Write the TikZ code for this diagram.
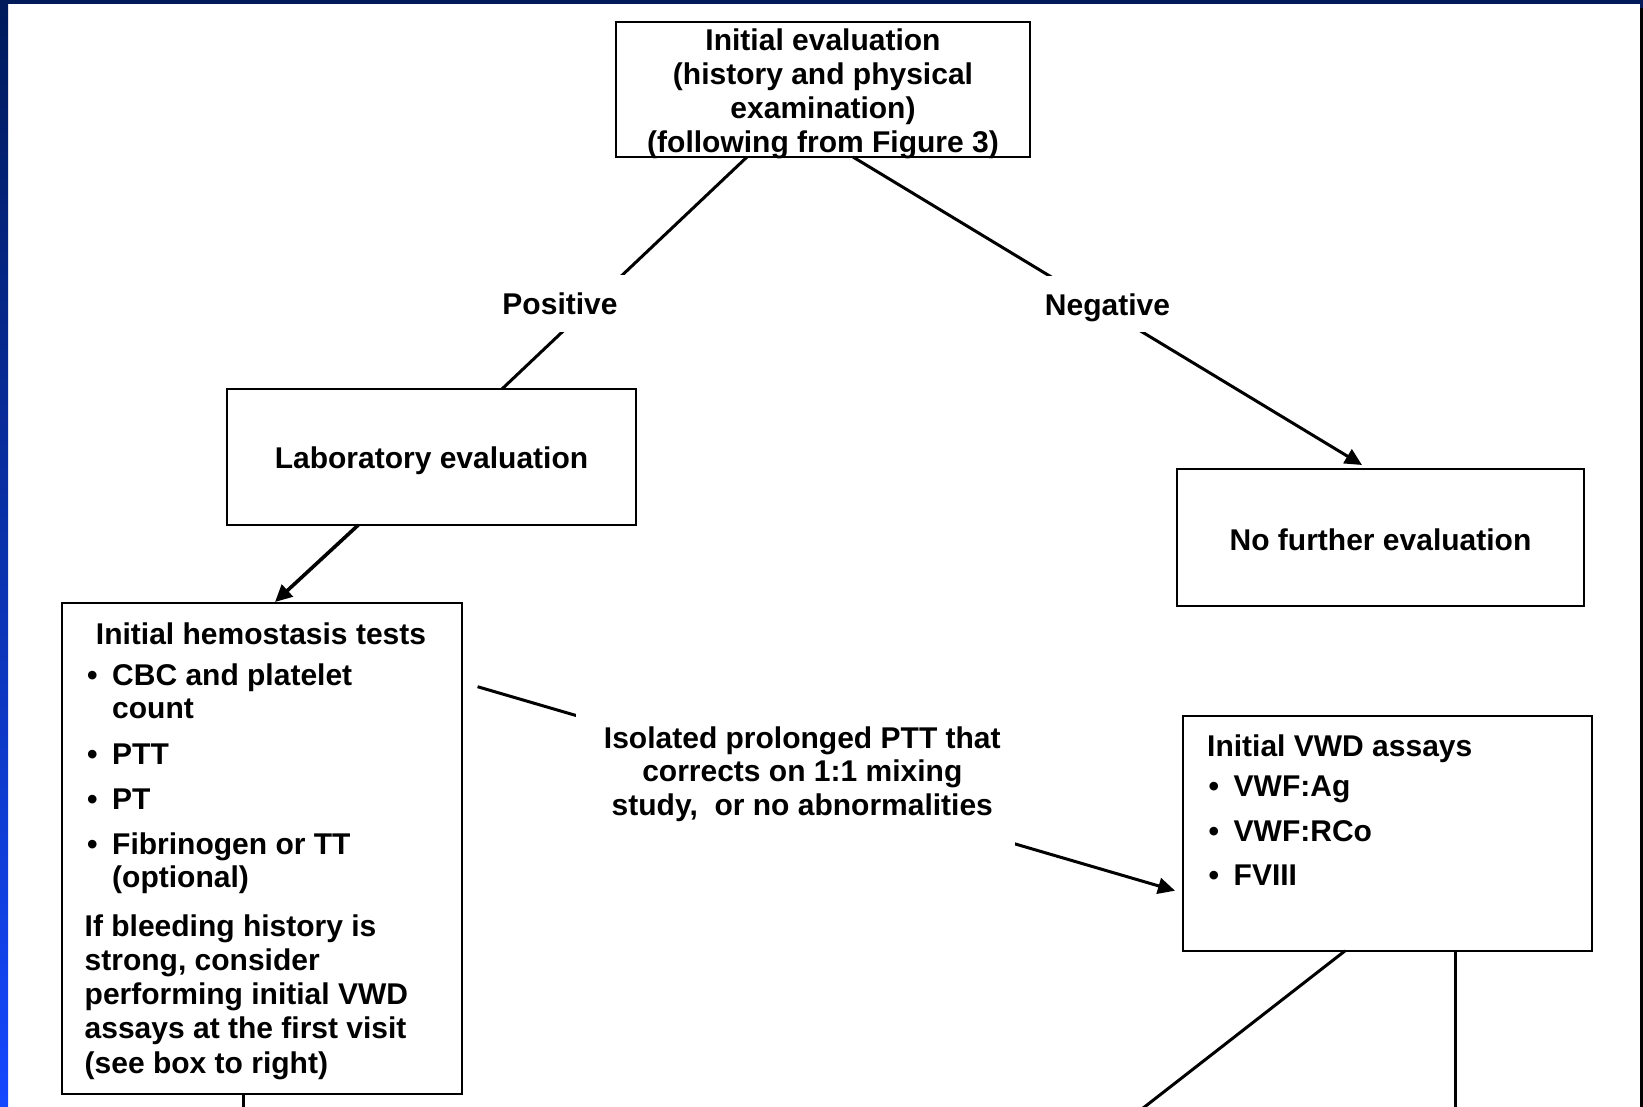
\documentclass[tikz,border=0pt]{standalone}
\usepackage{fontspec}
\setmainfont{Liberation Sans}
\usetikzlibrary{arrows.meta}
\definecolor{navy}{RGB}{0,26,90}
\definecolor{midblue}{RGB}{12,46,150}
\definecolor{brightblue}{RGB}{20,72,255}
\tikzset{
  boxst/.style={draw=black, line width=2pt, inner sep=0pt, rectangle},
  txt/.style={inner sep=0pt, font=\fontsize{30}{33}\selectfont\bfseries},
  lblst/.style={txt, fill=white, text height=22.5pt, text depth=0pt},
  conn/.style={line width=3pt},
  arr/.style={line width=3pt, -{Triangle[length=17pt,width=16pt]}},
  gapst/.style={fill=white, inner sep=0pt}
}
\newcommand{\bul}{\makebox[25pt][l]{\textbullet}}
\begin{document}
\begin{tikzpicture}[x=1pt,y=-1pt]
% background and frame strips
\useasboundingbox (0,0) rectangle (1643,1107);
\fill[white] (0,0) rectangle (1643,1107);
\fill[navy] (0,0) rectangle (1643,4);
\shade[top color=navy, middle color=midblue, bottom color=brightblue] (0,0) rectangle (8,1107);
\fill[navy] (1640,0) rectangle (1643,8);
\fill[black] (1640,8) rectangle (1643,1107);

% boxes
\node[boxst, minimum width=414pt, minimum height=135pt] (top) at (823,89.5) {};
\node[boxst, txt, text height=23pt, text depth=0pt, minimum width=409pt, minimum height=136pt] (lab) at (431.5,457) {Laboratory evaluation};
\node[boxst, txt, text height=25pt, text depth=0pt, minimum width=407pt, minimum height=137pt] (nofurther) at (1380.5,537.5) {No further evaluation};
\node[boxst, minimum width=400pt, minimum height=490.5pt] (hemo) at (261.5,848.25) {};
\node[boxst, minimum width=408.7pt, minimum height=234.7pt] (vwd) at (1387.35,833.35) {};

% top box text
\node[txt, anchor=base] (t1) at (823,50.5) {Initial evaluation};
\node[txt, anchor=base] (t2) at (823,84.7) {(history and physical};
\node[txt, anchor=base] (t3) at (823,118.8) {examination)};
\node[txt, anchor=base] (t4) at (823,153) {(following from Figure 3)};

% connector coordinates
\coordinate (pA) at (747,157);
\coordinate (pB) at (502,389);
\coordinate (nA) at (853,157);
\coordinate (nB) at (1362,465);
\coordinate (lA) at (358.3,525);
\coordinate (lB) at (275,602);
\coordinate (mA) at (477.6,686.7);
\coordinate (mB) at (1175,890.7);
\coordinate (hA) at (243.5,1093.5);
\coordinate (hB) at (243.5,1112);
\coordinate (vA) at (1345.2,950.7);
\coordinate (vB) at (1138,1112);
\coordinate (wA) at (1455.6,950.7);
\coordinate (wB) at (1455.6,1112);

% connectors
\draw[conn] (pA) -- (pB);
\draw[arr] (nA) -- (nB);
\draw[arr, line width=3.6pt] (lA) -- (lB);
\draw[arr] (mA) -- (mB);
\draw[conn] (hA) -- (hB);
\draw[conn] (vA) -- (vB);
\draw[conn] (wA) -- (wB);

% connector labels
\node[lblst, minimum width=130pt, minimum height=57pt] (pos) at (560,303.5) {Positive};
\node[lblst, minimum width=135pt, minimum height=56pt] (neg) at (1107.5,304) {Negative};
\node[gapst, minimum width=439.5pt, minimum height=134pt] (midgap) at (795.25,779) {};
\node[txt, anchor=base] (m1) at (802.3,748) {Isolated prolonged PTT that};
\node[txt, anchor=base] (m2) at (802.3,781.5) {corrects on 1:1 mixing};
\node[txt, anchor=base] (m3) at (802.3,815) {study,~~or no abnormalities};

% hemostasis box text
\node[txt, anchor=base] (h0) at (261,644.5) {Initial hemostasis tests};
\node[txt, anchor=base west] (h1) at (87,685) {\bul CBC and platelet};
\node[txt, anchor=base west] (h2) at (112,718.5) {count};
\node[txt, anchor=base west] (h3) at (87,764.5) {\bul PTT};
\node[txt, anchor=base west] (h4) at (87,809) {\bul PT};
\node[txt, anchor=base west] (h5) at (87,854) {\bul Fibrinogen or TT};
\node[txt, anchor=base west] (h6) at (112,887) {(optional)};
\node[txt, anchor=base west] (h7) at (84.5,936) {If bleeding history is};
\node[txt, anchor=base west] (h8) at (84.5,970) {strong, consider};
\node[txt, anchor=base west] (h9) at (84.5,1004.5) {performing initial VWD};
\node[txt, anchor=base west] (h10) at (84.5,1038.5) {assays at the first visit};
\node[txt, anchor=base west] (h11) at (84.5,1073) {(see box to right)};

% VWD box text
\node[txt, anchor=base west] (v0) at (1207,756) {Initial VWD assays};
\node[txt, anchor=base west] (v1) at (1208.5,796) {\bul VWF:Ag};
\node[txt, anchor=base west] (v2) at (1208.5,841.5) {\bul VWF:RCo};
\node[txt, anchor=base west] (v3) at (1208.5,885.5) {\bul FVIII};
\end{tikzpicture}
\end{document}
